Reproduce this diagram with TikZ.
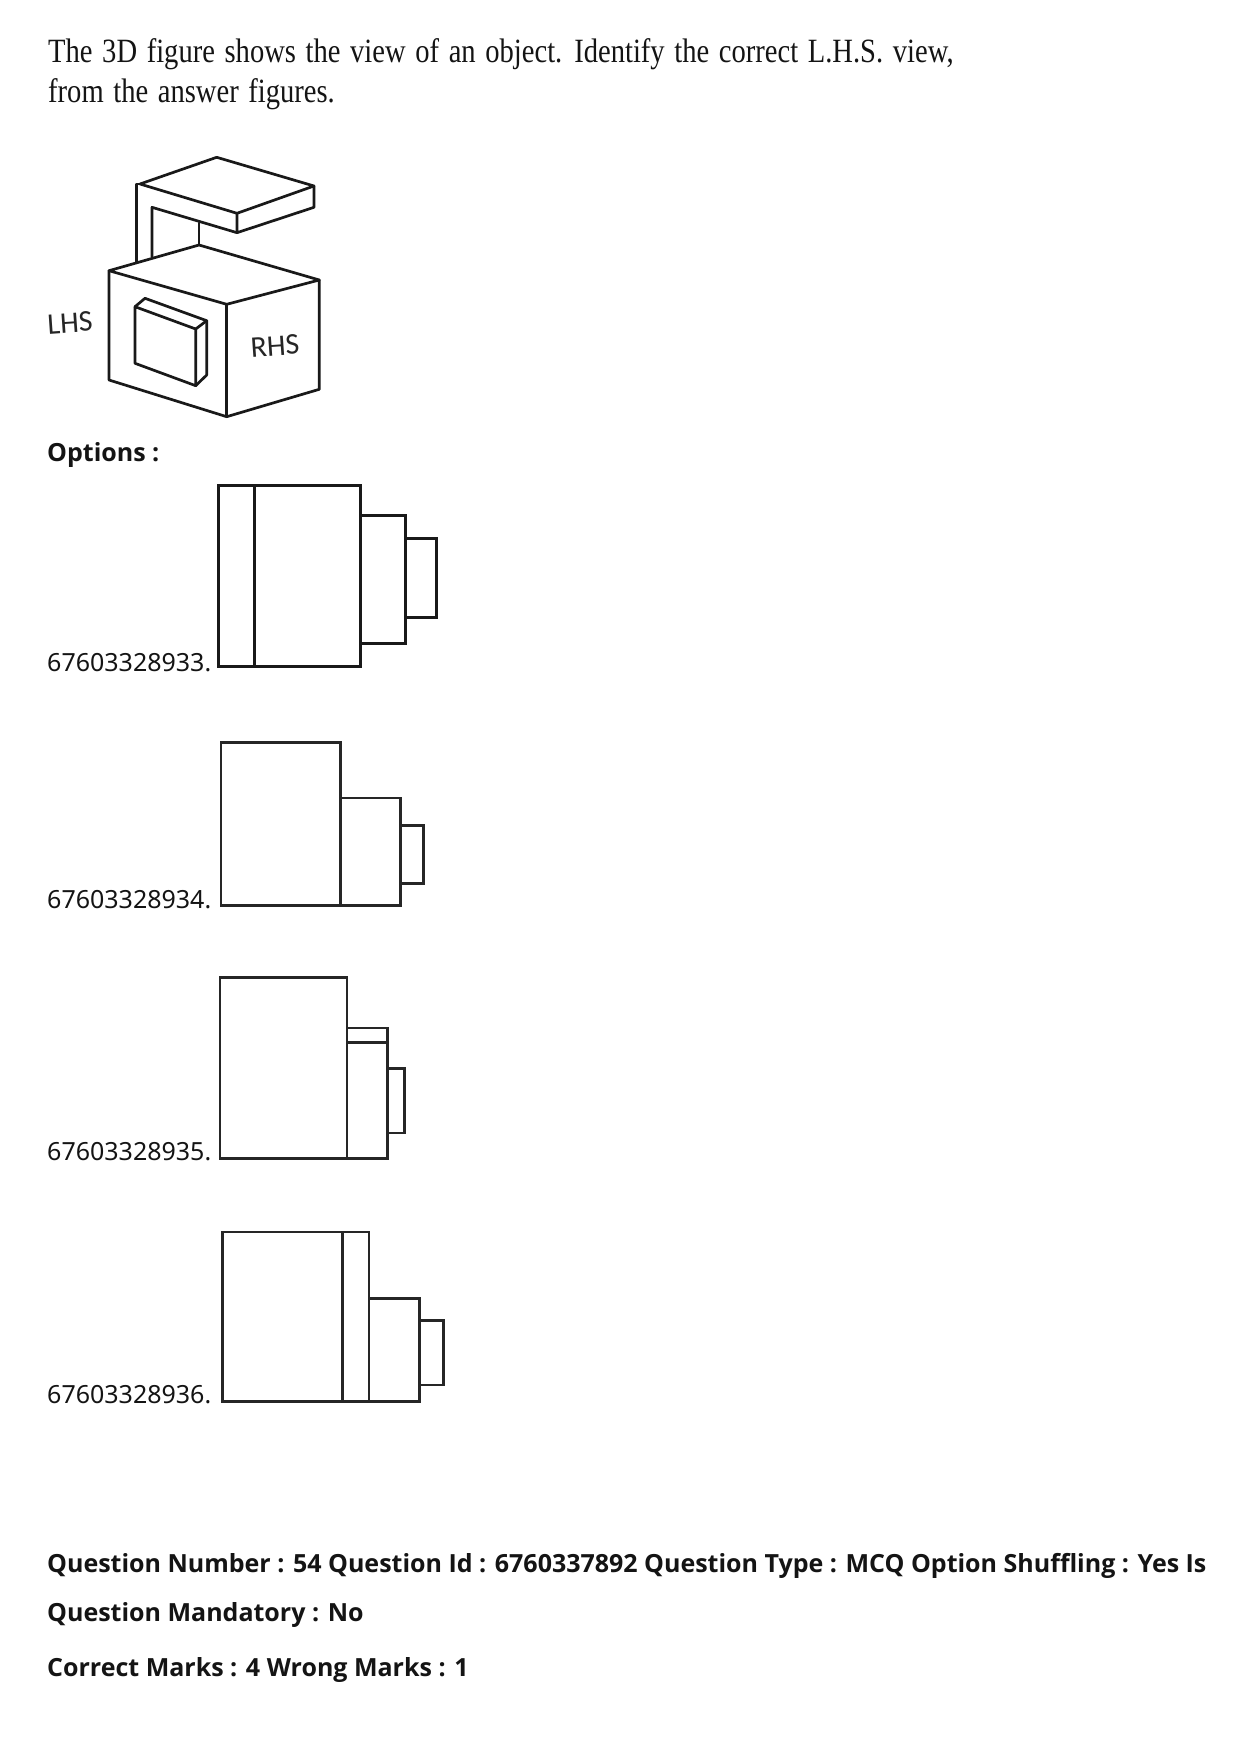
\documentclass[tikz,border=0pt]{standalone}
\usepackage{fontspec}
\usepackage{graphicx}
\setmainfont{Noto Sans}
\newfontfamily\strongf{Open Sans}
\newfontfamily\serifq[WordSpace=1.35]{Liberation Serif}
\newfontfamily\labelf{Carlito}
\tikzset{
  x=1pt,y=-1pt,
  ink/.style={draw=black!90,line width=3pt,line join=miter},
  inkb/.style={draw=black!85,line width=2.7pt,line join=miter},
  fig/.style={draw=black!90,line width=2.7pt,line join=round,line cap=round},
  body/.style={anchor=base west,inner sep=0pt,font=\fontsize{25pt}{30pt}\selectfont,text=black!92},
  strong/.style={anchor=base west,inner sep=0pt,font=\fontsize{25pt}{30pt}\strongf\bfseries,text=black!92},
  quest/.style={anchor=base west,inner sep=0pt,font=\fontsize{34pt}{36pt}\serifq,text=black!92},
  sidelab/.style={inner sep=0pt,font=\fontsize{30pt}{30pt}\labelf,text=black!85}
}
\begin{document}
\begin{tikzpicture}
\useasboundingbox (0,0) rectangle (1240,1755);
\fill[white] (0,0) rectangle (1240,1755);
\node[quest] (q1) at (48,63) {\scalebox{0.84}[1]{The 3D figure shows the view of an object. Identify the correct L.H.S. view,}};
\node[quest] (q2) at (48,103) {\scalebox{0.84}[1]{from the answer figures.}};
% 3D figure
\draw[fig] (140,184) -- (216.7,157.3) -- (314,186) -- (237,213.3) -- cycle;
\draw[fig] (237,213.3) -- (237,232.7) -- (314,207.3) -- (314,186);
\draw[fig] (140,184) -- (136.7,184) -- (136.7,262.7);
\draw[fig] (152,257) -- (152,207.3) -- (237,232.7);
\draw[fig] (199,223) -- (199,245);
\draw[fig] (109,270.7) -- (199,245) -- (319.3,280) -- (226.7,304.3) -- cycle;
\draw[fig] (109,270.7) -- (109,380) -- (226.7,416.7) -- (319.3,389.3) -- (319.3,280);
\draw[fig] (226.7,304.3) -- (226.7,416.7);
\draw[fig] (135,306.7) -- (195.7,329) -- (195.7,385.7) -- (135,363.3) -- cycle;
\draw[fig] (135,306.7) -- (145,298.3) -- (206.7,320.7) -- (195.7,329);
\draw[fig] (206.7,320.7) -- (206.7,375) -- (195.7,385.7);
\node[sidelab,rotate=4] (lhs) at (70,323) {LHS};
\node[sidelab,rotate=4] (rhs) at (275,346) {RHS};
% options
\node[strong] (opts) at (47,461) {Options :};
\node[body] (o1) at (47,671) {67603328933.};
\draw[ink] (218.3,485) rectangle (360,666);
\draw[ink] (254,485) -- (254,666);
\draw[ink] (360,515.7) -- (405.7,515.7) -- (405.7,643.3) -- (360,643.3);
\draw[ink] (405.7,538.3) -- (436.7,538.3) -- (436.7,617.7) -- (405.7,617.7);
\node[body] (o2) at (47,908.5) {67603328934.};
\draw[inkb] (221,742.7) rectangle (340.7,905.7);
\draw[inkb] (340.7,798) -- (400.7,798) -- (400.7,905.7) -- (340.7,905.7);
\draw[inkb] (400.7,825.3) -- (423.7,825.3) -- (423.7,883.3) -- (400.7,883.3);
\node[body] (o3) at (47,1160.7) {67603328935.};
\draw[inkb] (220,977.3) rectangle (347,1158.3);
\draw[inkb] (347,1028) -- (387.3,1028) -- (387.3,1158.3) -- (347,1158.3);
\draw[inkb] (347,1042.7) -- (387.3,1042.7);
\draw[inkb] (387.3,1068.7) -- (404.7,1068.7) -- (404.7,1133) -- (387.3,1133);
\node[body] (o4) at (47,1403.5) {67603328936.};
\draw[inkb] (222.7,1232) rectangle (369,1401.7);
\draw[inkb] (342.3,1232) -- (342.3,1401.7);
\draw[inkb] (369,1298.3) -- (419.7,1298.3) -- (419.7,1401.7) -- (369,1401.7);
\draw[inkb] (419.7,1320.7) -- (443.7,1320.7) -- (443.7,1385) -- (419.7,1385);
% footer
\node[strong] (f1) at (47,1572) {Question Number : 54 Question Id : 6760337892 Question Type : MCQ Option Shuffling : Yes Is};
\node[strong] (f2) at (47,1621) {Question Mandatory : No};
\node[strong] (f3) at (47,1676) {Correct Marks : 4 Wrong Marks : 1};
\end{tikzpicture}
\end{document}
